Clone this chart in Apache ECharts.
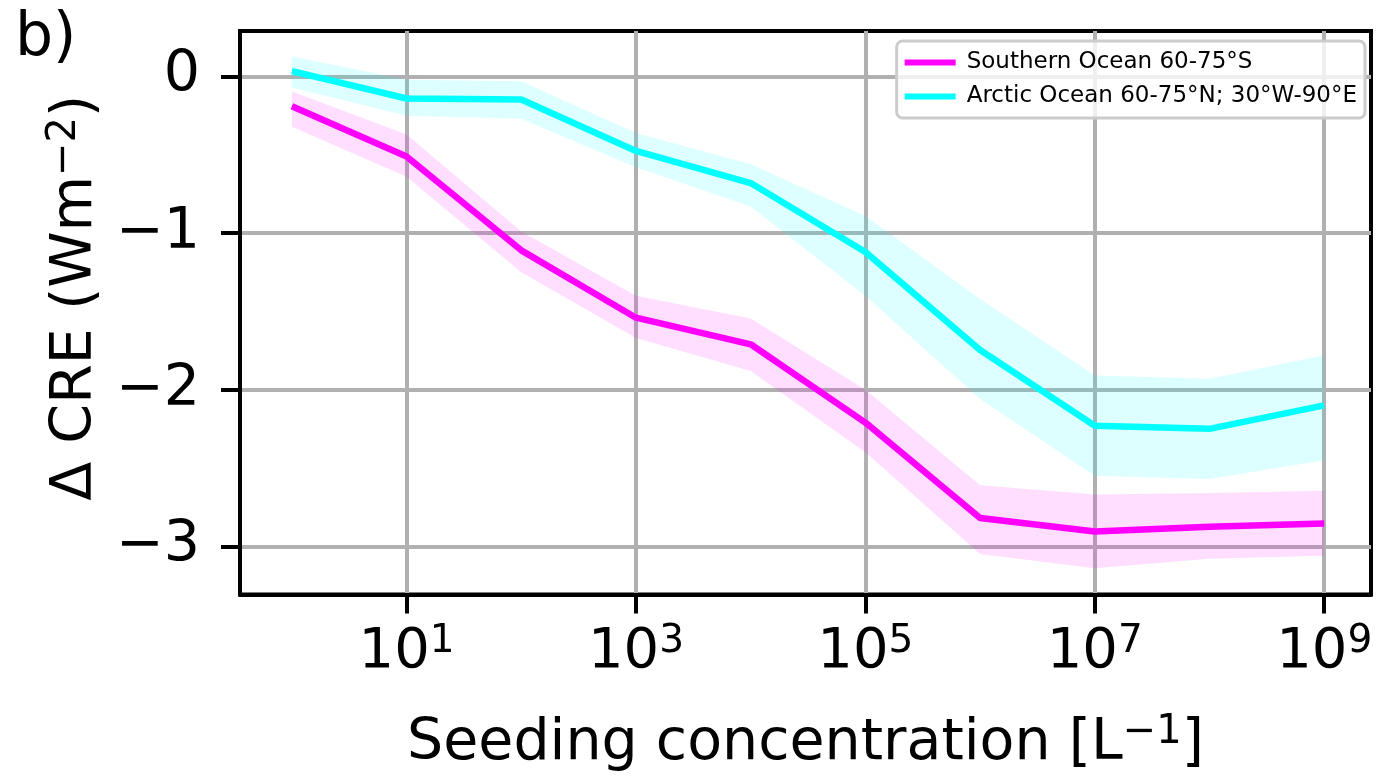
<!DOCTYPE html>
<html>
<head>
<meta charset="utf-8">
<title>Delta CRE vs seeding concentration</title>
<script src="https://cdn.jsdelivr.net/npm/echarts@6/dist/echarts.min.js"></script>
<style>
  html, body { margin: 0; padding: 0; background: #fff; }
  #main { width: 1377px; height: 778px; }
</style>
</head>
<body>
<div id="main"></div>
<script>
// seeding concentration [L^-1]
const concentration = [1, 10, 100, 1e3, 1e4, 1e5, 1e6, 1e7, 1e8, 1e9];

// Southern Ocean 60-75°S (mean and shaded range)
const southern     = [-0.19, -0.51, -1.11, -1.54, -1.71, -2.21, -2.82, -2.905, -2.875, -2.855];
const southernLow  = [-0.32, -0.64, -1.25, -1.67, -1.88, -2.40, -3.05, -3.14, -3.08, -3.06];
const southernHigh = [-0.095, -0.37, -0.99, -1.40, -1.545, -2.00, -2.61, -2.67, -2.66, -2.645];

// Arctic Ocean 60-75°N; 30°W-90°E
const arctic     = [0.035, -0.14, -0.146, -0.475, -0.68, -1.12, -1.746, -2.23, -2.25, -2.10];
const arcticLow  = [-0.07, -0.25, -0.27, -0.58, -0.83, -1.40, -2.06, -2.55, -2.57, -2.45];
const arcticHigh = [0.13, -0.02, -0.03, -0.36, -0.56, -0.89, -1.42, -1.91, -1.93, -1.78];

// tick values
const xTicks = [10, 1e3, 1e5, 1e7, 1e9];
const yTicks = [-3, -2, -1, 0];

const FONT = 'DejaVu Sans';
const nameSouth = 'Southern Ocean 60-75°S';
const nameArctic = 'Arctic Ocean 60-75°N; 30°W-90°E';

const chart = echarts.init(document.getElementById('main'));

// shaded band between low and high, drawn once as a polygon
function band(low, high, color) {
  return function (params, api) {
    if (params.dataIndex !== 0) return;
    const pts = [];
    for (let i = 0; i < concentration.length; i++) {
      pts.push(api.coord([concentration[i], high[i]]));
    }
    for (let i = concentration.length - 1; i >= 0; i--) {
      pts.push(api.coord([concentration[i], low[i]]));
    }
    return { type: 'polygon', shape: { points: pts }, style: { fill: color } };
  };
}

const pairs = (ys) => concentration.map((c, i) => [c, ys[i]]);

const supRich = {
  b: { fontFamily: FONT, fontSize: 56, lineHeight: 60, color: '#000' },
  s: { fontFamily: FONT, fontSize: 39, lineHeight: 32, verticalAlign: 'top', color: '#000' }
};
const nameRich = {
  n: { fontFamily: FONT, fontSize: 57, lineHeight: 64, color: '#000' },
  s: { fontFamily: FONT, fontSize: 40, lineHeight: 34, verticalAlign: 'top', color: '#000' }
};

chart.setOption({
  animation: false,
  backgroundColor: '#fff',
  textStyle: { fontFamily: FONT },
  title: {
    text: 'b)',
    left: 10,
    top: 4,
    textStyle: { fontFamily: FONT, fontSize: 60, fontWeight: 'normal', color: '#000' }
  },
  grid: {
    left: 240, top: 31, right: 6, bottom: 181,
    show: true,
    borderColor: '#000',
    borderWidth: 4
  },
  legend: {
    data: [nameSouth, nameArctic],
    orient: 'vertical',
    right: 12,
    top: 41,
    icon: 'rect',
    itemWidth: 51,
    itemHeight: 6,
    itemGap: 9,
    padding: [9, 8, 9, 8],
    backgroundColor: 'rgba(255,255,255,0.8)',
    borderColor: '#cccccc',
    borderWidth: 3,
    borderRadius: 6,
    textStyle: { fontFamily: FONT, fontSize: 23, lineHeight: 25, color: '#000', padding: [0, 0, 0, 6] }
  },
  xAxis: {
    type: 'log',
    logBase: 10,
    min: 0.353,
    max: 2.56e9,
    name: '{n|Seeding concentration [L}{s|−1}{n|]}',
    nameLocation: 'middle',
    nameGap: 118,
    nameTextStyle: { rich: nameRich },
    axisLine: { show: true, onZero: false, lineStyle: { color: '#000', width: 4 } },
    axisTick: { show: true, length: 19, customValues: xTicks, lineStyle: { color: '#000', width: 4 } },
    axisLabel: {
      customValues: xTicks,
      margin: 28,
      formatter: (v) => '{b|10}{s|' + Math.round(Math.log10(v)) + '}',
      rich: supRich
    },
    splitLine: { show: true, lineStyle: { color: '#b0b0b0', width: 4 } },
    minorSplitLine: { show: false }
  },
  yAxis: {
    type: 'value',
    min: -3.308,
    max: 0.291,
    name: '{n|Δ CRE (Wm}{s|−2}{n|)}',
    nameLocation: 'middle',
    nameGap: 124,
    nameTextStyle: { rich: nameRich, padding: [0, 0, 0, 30] },
    axisLine: { show: true, lineStyle: { color: '#000', width: 4 } },
    axisTick: { show: true, length: 19, customValues: yTicks, lineStyle: { color: '#000', width: 4 } },
    axisLabel: {
      customValues: yTicks,
      margin: 40,
      fontFamily: FONT,
      fontSize: 57,
      color: '#000',
      formatter: (v) => (v < 0 ? '−' + Math.abs(v) : String(v))
    },
    splitLine: { show: true, lineStyle: { color: '#b0b0b0', width: 4 } }
  },
  series: [
    {
      name: 'southern band',
      type: 'custom',
      z: 1,
      silent: true,
      data: concentration.map((c, i) => [c, southernLow[i], southernHigh[i]]),
      encode: { x: 0, y: [1, 2] },
      renderItem: band(southernLow, southernHigh, 'rgba(255,0,255,0.13)')
    },
    {
      name: 'arctic band',
      type: 'custom',
      z: 1,
      silent: true,
      data: concentration.map((c, i) => [c, arcticLow[i], arcticHigh[i]]),
      encode: { x: 0, y: [1, 2] },
      renderItem: band(arcticLow, arcticHigh, 'rgba(0,255,255,0.13)')
    },
    {
      name: nameSouth,
      type: 'line',
      z: 3,
      data: pairs(southern),
      showSymbol: false,
      symbol: 'none',
      color: '#ff00ff',
      lineStyle: { color: '#ff00ff', width: 6.5 }
    },
    {
      name: nameArctic,
      type: 'line',
      z: 3,
      data: pairs(arctic),
      showSymbol: false,
      symbol: 'none',
      color: '#00ffff',
      lineStyle: { color: '#00ffff', width: 6.5 }
    }
  ]
});
</script>
</body>
</html>
